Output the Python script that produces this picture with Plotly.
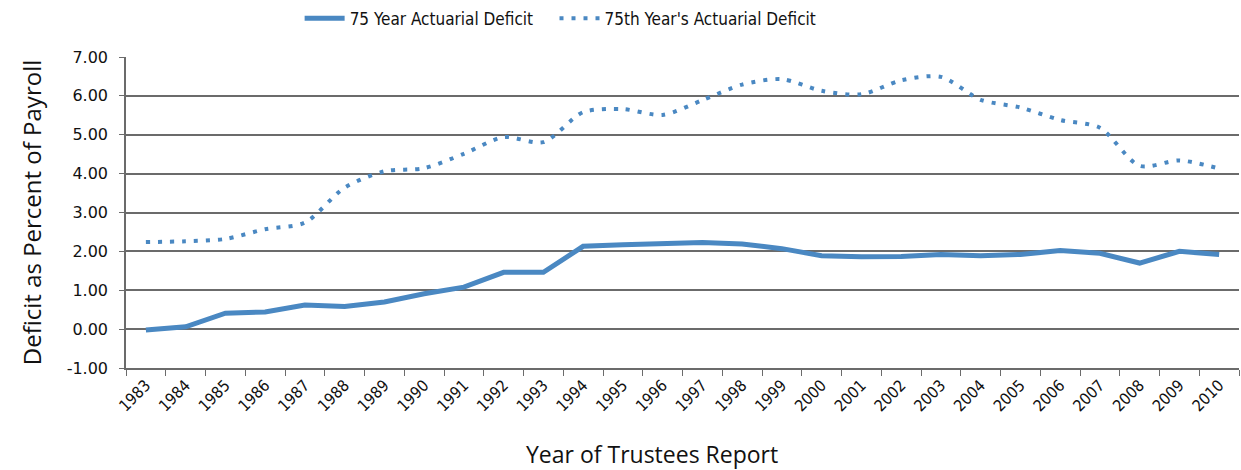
import plotly.graph_objects as go

# Trustees report years (category axis)
years = [str(y) for y in range(1983, 2011)]

# 75-year actuarial deficit, percent of taxable payroll
deficit_75yr = [-0.02, 0.06, 0.41, 0.44, 0.62, 0.58, 0.70, 0.91, 1.08, 1.46,
                1.46, 2.13, 2.17, 2.19, 2.23, 2.19, 2.07, 1.89, 1.86, 1.87,
                1.92, 1.89, 1.92, 2.02, 1.95, 1.70, 2.00, 1.92]

# Deficit in the 75th year of the projection period
deficit_75th = [2.24, 2.26, 2.32, 2.57, 2.74, 3.64, 4.06, 4.14, 4.51, 4.94,
                4.81, 5.58, 5.66, 5.51, 5.89, 6.29, 6.43, 6.13, 6.04, 6.40,
                6.49, 5.90, 5.70, 5.38, 5.18, 4.20, 4.34, 4.13]

y_ticks = [-1, 0, 1, 2, 3, 4, 5, 6, 7]
y_tick_labels = ["%.2f" % v for v in y_ticks]

blue = "#4A88C2"
grid = "#6b6b6b"
legend_font = dict(family="DejaVu Sans Condensed, DejaVu Sans", size=17, color="#111")

fig = go.Figure()
fig.add_trace(go.Scatter(
    x=years, y=deficit_75yr, mode="lines",
    name="75 Year Actuarial Deficit",
    line=dict(color=blue, width=5),
    legend="legend",
))
fig.add_trace(go.Scatter(
    x=years, y=deficit_75th, mode="lines",
    name="75th Year's Actuarial Deficit",
    line=dict(color=blue, width=4, dash="4px,8px", shape="spline", smoothing=0.8),
    legend="legend2",
))

fig.update_layout(
    width=1241, height=470,
    margin=dict(l=126, r=2, t=57, b=102, autoexpand=False),
    paper_bgcolor="white", plot_bgcolor="white",
    font=dict(family="DejaVu Sans", color="#111"),
    legend=dict(
        orientation="h", x=0.156, xanchor="left",
        yref="container", y=0.96, yanchor="middle",
        font=legend_font, itemwidth=40,
    ),
    legend2=dict(
        orientation="h", x=0.385, xanchor="left",
        yref="container", y=0.96, yanchor="middle",
        font=legend_font, itemwidth=40,
    ),
    showlegend=True,
    annotations=[dict(
        text="Year of Trustees Report", xref="paper", yref="paper",
        x=0.473, y=-0.277, xanchor="center", yanchor="middle", showarrow=False,
        font=dict(family="Open Sans", size=23, color="#111"),
    )],
)
fig.update_yaxes(
    range=[-1, 7], tickvals=y_ticks, ticktext=y_tick_labels,
    showgrid=True, gridcolor=grid, gridwidth=1.5,
    zeroline=True, zerolinecolor=grid, zerolinewidth=1.5,
    showline=True, linecolor=grid, linewidth=1.5,
    ticks="outside", ticklen=5, tickcolor=grid, ticklabelstandoff=8,
    tickfont=dict(family="DejaVu Sans", size=16, color="#111"),
    title=dict(text="Deficit as Percent of Payroll", standoff=18,
               font=dict(family="Open Sans", size=24, color="#111")),
)
fig.update_xaxes(
    type="category", range=[-0.5, 27.5], tickangle=-45, tickson="boundaries",
    ticks="outside", ticklen=6, tickcolor=grid,
    showline=True, linecolor=grid, linewidth=1.5,
    showgrid=False,
    tickfont=dict(family="DejaVu Sans Condensed, DejaVu Sans", size=16, color="#111"),
)

fig.write_html("out.html")
